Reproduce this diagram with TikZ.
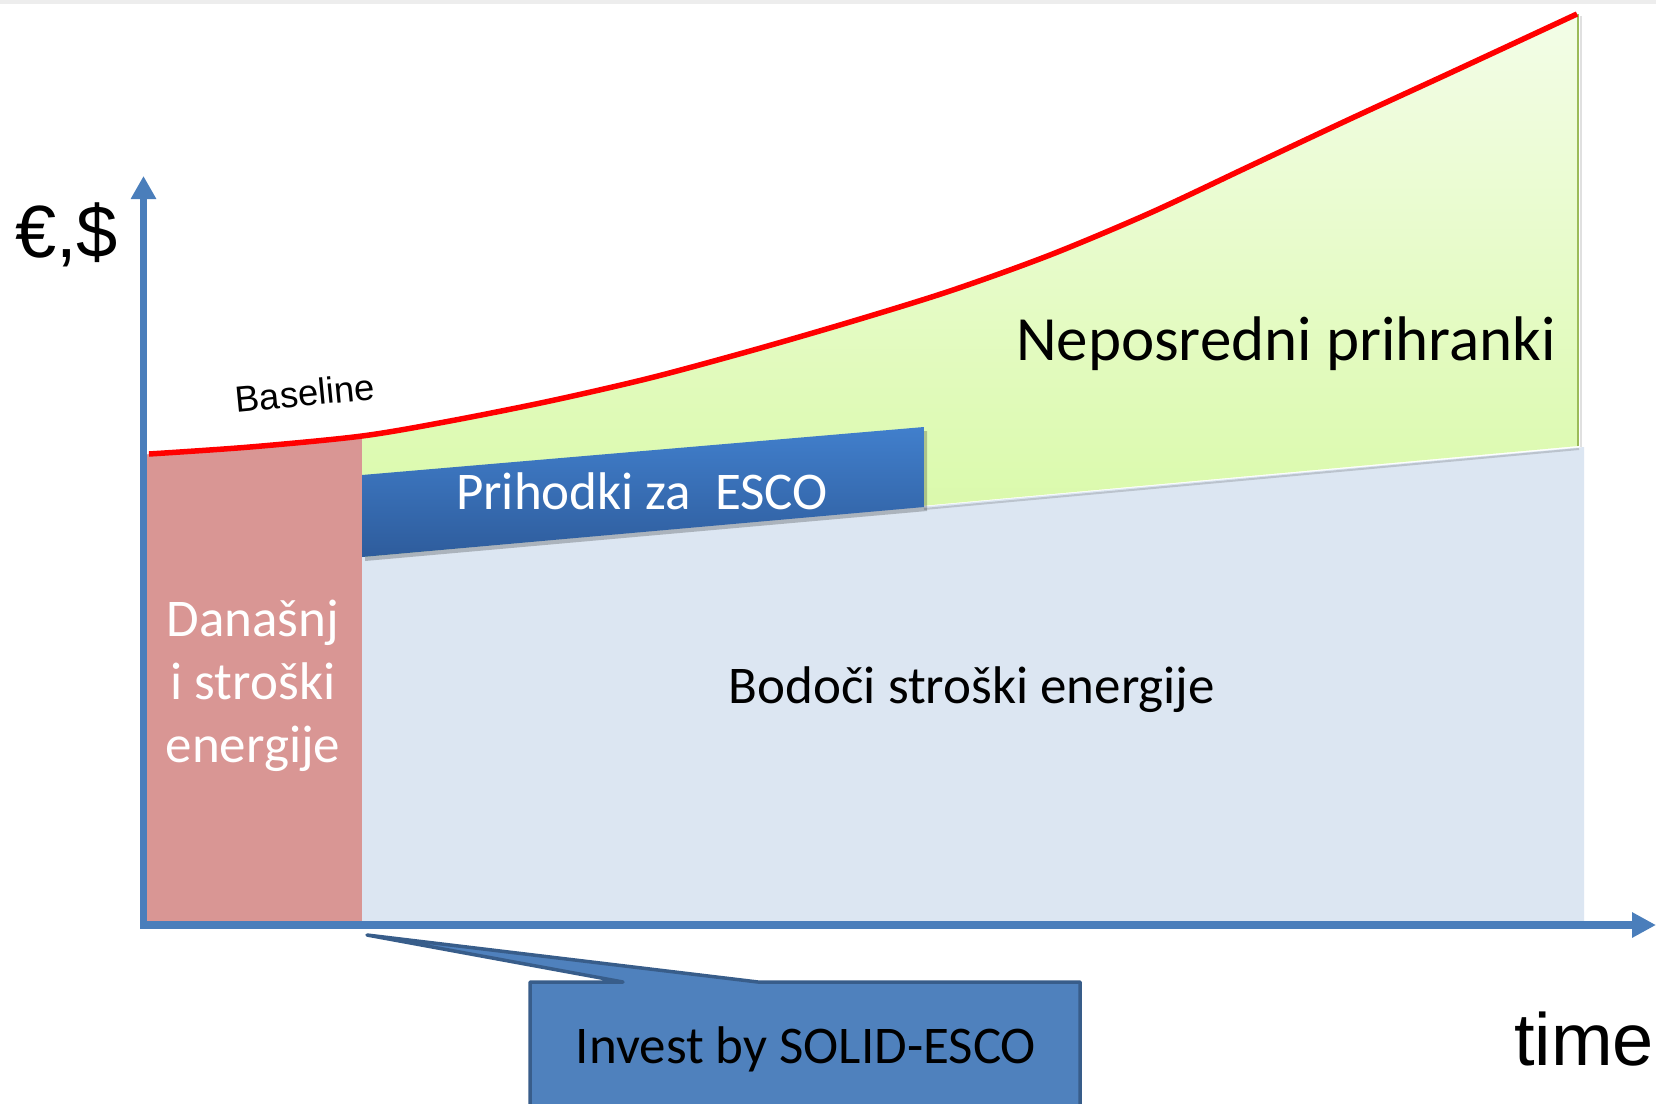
\documentclass[tikz,border=0pt]{standalone}
\usepackage{fontspec}
\setmainfont{Carlito}
\newfontfamily\arialf{Liberation Sans}
\usetikzlibrary{arrows.meta}
\definecolor{axisblue}{HTML}{4A7EBB}
\definecolor{pinkc}{HTML}{D99694}
\definecolor{lblue}{HTML}{DCE6F2}
\definecolor{gtop}{HTML}{F4FDE9}
\definecolor{gbot}{HTML}{D8F9A6}
\definecolor{gedge}{HTML}{9BBB59}
\definecolor{boxtop}{HTML}{417FCC}
\definecolor{boxbot}{HTML}{2E5C9C}
\definecolor{callfill}{HTML}{4F81BD}
\definecolor{calldraw}{HTML}{385D8A}
\tikzset{
  lab/.style={font=\fontsize{53pt}{63pt}\selectfont, inner sep=0pt},
  biglab/.style={font=\fontsize{63pt}{75pt}\selectfont, inner sep=0pt},
  axislab/.style={font=\arialf\fontsize{74pt}{86pt}\selectfont, inner sep=0pt},
  axisline/.style={draw=axisblue, line width=7.5pt},
}
\begin{document}
\begin{tikzpicture}[x=1pt,y=-1pt]
\useasboundingbox (0,0) rectangle (1656,1103);
\fill[white] (0,0) rectangle (1656,1103);
\fill[black!7] (0,0) rectangle (1656,4);

% future energy costs area
\fill[lblue] (358,557.5) -- (1584,447) -- (1584,921) -- (358,921) -- cycle;

% areas under the baseline
\begin{scope}
\clip (144,1000) -- (144,455) -- plot[smooth,tension=0.5] coordinates {(149,454) (250,447) (362,436) (450,421) (550,401) (650,378) (750,351) (850,322) (950,291) (1050,255) (1150,213) (1250,166) (1350,119) (1450,73) (1577,14)} -- (1700,14) -- (1700,1000) -- cycle;
\fill[pinkc] (145,300) rectangle (362,921);
\shade[top color=gtop, bottom color=gbot] (362,0) -- (1578,0) -- (1578,446) -- (362,557) -- cycle;
\end{scope}
\draw[gedge, line width=2pt] (1578,14) -- (1578,446);
\draw[black, opacity=0.12, line width=2pt] (1581,16) -- (1581,447);
\draw[black, opacity=0.15, line width=2pt] (924,509) -- (1579,449);

% ESCO revenue box
\fill[black, opacity=0.22] (365,479) -- (927,431) -- (927,511) -- (365,561) -- cycle;
\shade[top color=boxtop, bottom color=boxbot] (362,475) -- (924,427) -- (924,507) -- (362,557) -- cycle;

% baseline curve
\draw[red, line width=5.5pt] plot[smooth,tension=0.5] coordinates {(149,454) (250,447) (362,436) (450,421) (550,401) (650,378) (750,351) (850,322) (950,291) (1050,255) (1150,213) (1250,166) (1350,119) (1450,73) (1577,14)};

% axes
\draw[axisline, line join=miter, {Triangle[length=23pt,width=24pt]}-{Triangle[length=24pt,width=24pt]}] (143.5,176) -- (143.5,925) -- (1656,925);

% callout
\draw[fill=callfill, draw=calldraw, line width=3.5pt, line join=round] (530,982) -- (623,982) -- (367,935) -- (758,982) -- (1080,982) -- (1080,1120) -- (530,1120) -- cycle;

% texts
\node[axislab, anchor=base west] (eur) at (15,257) {€,\$};
\node[axislab, anchor=base west] (time) at (1514,1065) {time};
\node[font=\arialf\fontsize{36.5pt}{42pt}\selectfont, inner sep=0pt, rotate=5.5] (baseline) at (305,393) {Baseline};
\node[biglab, anchor=base] (neposredni) at (1286,360) {Neposredni prihranki};
\node[lab, anchor=base, text=white] (esco) at (642,509) {Prihodki za\ \ ESCO};
\node[lab, anchor=base, text=white] (dan1) at (253,636) {Današnj};
\node[lab, anchor=base, text=white] (dan2) at (253,699) {i stroški};
\node[lab, anchor=base, text=white] (dan3) at (253,762) {energije};
\node[lab, anchor=base] (bodoci) at (972,703) {Bodoči stroški energije};
\node[lab, anchor=base] (invest) at (806,1063) {Invest by SOLID-ESCO};
\end{tikzpicture}
\end{document}
